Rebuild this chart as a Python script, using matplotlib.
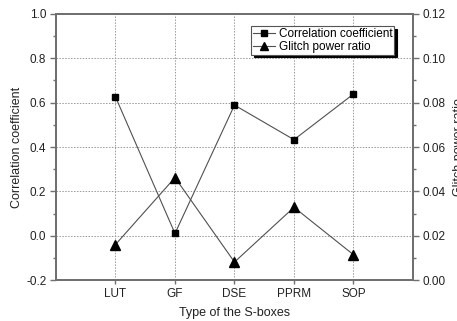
import matplotlib
matplotlib.use("Agg")
import matplotlib.pyplot as plt
from matplotlib.ticker import MultipleLocator, FormatStrFormatter

categories = ["LUT", "GF", "DSE", "PPRM", "SOP"]
correlation = [0.626, 0.010, 0.589, 0.433, 0.639]
glitch = [0.0160, 0.0462, 0.0081, 0.0328, 0.0114]

plt.rcParams['font.family'] = ['Liberation Sans', 'DejaVu Sans']

fig = plt.figure(figsize=(4.57, 3.21), dpi=100)
ax = fig.add_axes([0.1225, 0.1277, 0.7812, 0.8287])
ax2 = ax.twinx()

x = list(range(len(categories)))
spine_c = '#707070'
line_c = '#505050'
txt_c = '#222222'

l1, = ax.plot(x, correlation, color=line_c, lw=0.8, marker='s', ms=5,
              mfc='black', mec='black', label='Correlation coefficient')
l2, = ax2.plot(x, glitch, color=line_c, lw=0.8, marker='^', ms=6.5,
               mfc='black', mec='black', label='Glitch power ratio')

ax.set_xlim(-1, 5)
ax.set_ylim(-0.2, 1.0)
ax2.set_ylim(0.0, 0.12)
ax.set_xticks(x)
ax.set_xticklabels(categories)
ax.yaxis.set_major_locator(MultipleLocator(0.2))
ax.yaxis.set_minor_locator(MultipleLocator(0.1))
ax.yaxis.set_major_formatter(FormatStrFormatter('%.1f'))
ax2.yaxis.set_major_locator(MultipleLocator(0.02))
ax2.yaxis.set_minor_locator(MultipleLocator(0.01))
ax2.yaxis.set_major_formatter(FormatStrFormatter('%.2f'))

ax.grid(True, which='major', color='#999999', linestyle=(0, (1.5, 1.5)), lw=0.7)
ax.set_axisbelow(True)

for a in (ax, ax2):
    for s in a.spines.values():
        s.set_color(spine_c)
        s.set_linewidth(1.4)
    a.tick_params(which='both', direction='out', color=spine_c, labelsize=8.5, labelcolor=txt_c)
    a.tick_params(which='major', length=4, width=1, pad=3)
    a.tick_params(which='minor', length=2.5, width=1)
ax.tick_params(axis='x', length=3, pad=3)

ax.set_xlabel('Type of the S-boxes', fontsize=9, color=txt_c, labelpad=5)
ax.set_ylabel('Correlation coefficient', fontsize=9, color=txt_c, labelpad=2)
ax2.set_ylabel('Glitch power ratio', fontsize=9, color=txt_c, labelpad=5)

leg = ax.legend([l1, l2], ['Correlation coefficient', 'Glitch power ratio'],
                loc='upper right', bbox_to_anchor=(0.947, 0.955), fontsize=8.5,
                frameon=True, fancybox=False, shadow={'color': 'black', 'alpha': 1},
                borderpad=0.15, labelspacing=0.1, handlelength=1.9, handletextpad=0.3,
                borderaxespad=0, markerscale=0.85)
leg.get_frame().set_edgecolor('#555555')
leg.get_frame().set_linewidth(0.8)

fig.savefig('out.png', dpi=100)
